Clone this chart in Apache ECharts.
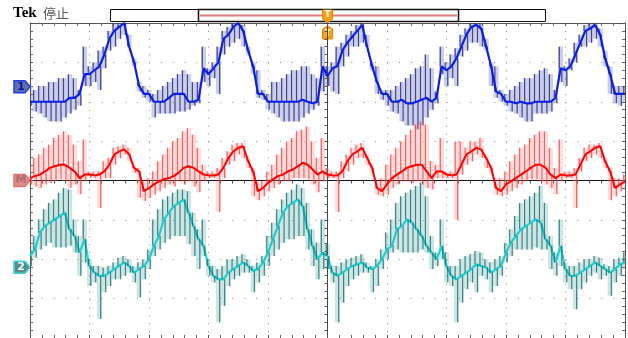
<!DOCTYPE html>
<html>
<head>
<meta charset="utf-8">
<script src="https://cdn.jsdelivr.net/npm/echarts@6/dist/echarts.min.js"></script>
<style>
  html, body { margin: 0; padding: 0; background: #fff; }
  #scope { width: 628px; height: 338px; }
</style>
</head>
<body>
<div id="scope"></div>
<script>
// 纵向单位：0.1 格（屏幕上下各 4 格 = ±40），横向 121 个采样点覆盖 10 格
// 通道 1（蓝）：主线 / 尖峰上沿 / 尖峰下沿
const blueCore = [
  20, 20, 20, 20, 20, 20, 20, 20, 21, 21,
  22, 27, 27, 28, 29, 32, 36, 38, 39, 40,
  34, 30, 24, 22, 22, 20, 20, 20, 21, 22,
  22, 22, 20, 20, 20.5, 28.5, 27, 28.5, 30, 36,
  37, 39, 40, 38, 33, 29, 22, 22, 20, 20,
  20, 20, 20, 20, 20, 20.5, 20, 19.6, 20, 29,
  26.5, 28.5, 29, 33, 35, 36.5, 38, 39.5, 34, 29,
  25, 22, 22, 20, 20, 20.5, 19.6, 19.6, 20, 20.5,
  21, 20, 21, 29, 28, 29, 31, 34, 37, 39,
  39.5, 38.6, 34, 29, 22.6, 22, 20, 20, 19.6, 20,
  19.6, 19.6, 20, 20, 20, 20, 21, 28.5, 28, 29,
  32, 35, 38, 38.6, 39.5, 37, 31, 27, 22, 22,
  22
];
const blueHi = [
  24, 23, 24, 24, 25, 25, 26, 26, 27, 26,
  23, 34, 29, 30, 33, 34, 38, 40, 40, 40,
  37, 31, 25, 24, 23, 22, 23, 24, 25, 26,
  27, 28, 27, 25, 25, 34, 28.5, 30, 34, 38,
  39, 40, 40, 39.5, 34, 30, 28, 23, 22, 25,
  25, 26, 27, 28, 28, 29, 29, 27, 26, 34,
  29, 30, 34, 35, 37, 38, 39.5, 40, 37, 30,
  29, 23, 23, 23, 24, 25, 26, 27, 28.5, 29,
  32, 28.5, 22.6, 34, 30, 32, 33.6, 37, 38.6, 40,
  40, 40, 36, 30, 29, 23, 22, 23, 24, 25,
  26, 26, 27, 28, 28.5, 27, 23, 34, 29, 31,
  35, 37, 39.5, 40, 40, 38.6, 33, 29, 24, 24,
  24
];
const blueLo = [
  19, 17.5, 17, 16, 15, 15, 15, 16, 17, 18,
  19, 24, 24, 25, 23, 28.5, 33, 34, 36, 37,
  34, 29, 22.6, 21, 20, 16, 17, 17, 17, 17,
  17.5, 17.5, 18, 19, 19.6, 25, 24, 26, 22, 32,
  34, 35, 36, 34, 32, 27, 21, 20.5, 18, 17,
  16, 15, 15, 15, 15, 16, 17, 18, 19, 22.6,
  24, 22.6, 22, 29, 31.5, 34, 34, 35, 34, 28,
  22, 20.5, 19, 17.5, 17, 15, 14, 14, 13, 14,
  16, 18, 19.6, 27, 24, 26, 24, 31.5, 33, 35,
  35, 34, 33, 24, 21, 20, 19, 17.5, 17, 16,
  15, 15, 17, 17, 17, 17.5, 19.6, 25, 24, 28,
  30, 34, 34, 35, 36, 34, 29, 22, 19.6, 19,
  20
];

// 数学通道 M（红）
const redCore = [
  0.6, 1.1, 1.5, 2.3, 3.2, 3.6, 4, 4, 3.2, 2.3,
  0.6, 1.5, 1.5, 1.3, 1.5, 2.3, 4, 6.6, 7.4, 7.9,
  6.6, 3.2, 2.3, -2.7, -1.9, -1, -0.2, 0.3, 0.6, 1.1,
  2, 3.2, 3.6, 3.2, 2.3, 1.5, 1.3, 1.3, 1.5, 3.2,
  5.7, 7.4, 8.3, 8.7, 4.9, 2.3, -2.7, -1.9, -0.6, 0.3,
  1.1, 1.5, 2.3, 2.8, 3.6, 4.5, 4, 2.8, 1.5, 2.3,
  1.5, 1.3, 1.3, 2.3, 4.9, 6.6, 7.4, 8.3, 5.7, 3.2,
  -1.9, -2.7, -1, 0.6, 1.5, 2.3, 3.2, 3.6, 4, 4,
  2.3, 0.6, 2.3, 2.3, 1.5, 1.3, 1.5, 4, 6.6, 7.4,
  8.3, 7.9, 5.7, 3.2, -1.9, -2.7, -1, -0.2, 0.6, 1.5,
  2.3, 3.2, 4, 4, 3.2, 1.5, 0.6, 1.5, 1.3, 1.3,
  1.5, 4, 6.6, 7.4, 8.3, 8.7, 4.9, 2.3, -1.9, -1,
  -0.2
];
const redHi = [
  4, 5.7, 6.6, 8.3, 9.1, 10.8, 11.6, 12.5, 11.6, 9.1,
  4.9, 10.4, 2.3, 2.3, 2.3, 4.9, 5.7, 8.3, 8.7, 9.1,
  8.3, 3.6, 3.2, -0.2, 0.6, 2.3, 4.9, 6.6, 8.3, 9.9,
  10.8, 12.5, 13.3, 11.6, 8.3, 4, 2.3, 2.3, 3.2, 5.7,
  7.4, 9.1, 9.5, 9.5, 5.7, 3.2, -0.2, -0.2, 2.3, 4,
  6.6, 8.3, 9.9, 10.8, 12.5, 12.9, 13.7, 9.9, 5.7, 10.8,
  3.2, 2.3, 2.3, 4.9, 6.6, 8.3, 9.1, 9.5, 6.6, 4,
  -0.2, 0.6, 4, 6.6, 8.3, 9.9, 11.6, 12.9, 14.2, 15,
  14.2, 4.9, 4, 10.8, 2.3, 2.3, 9.9, 9.9, 8.3, 9.9,
  9.9, 10.8, 6.6, 4, 0.6, 0.6, 2.3, 4.9, 6.6, 8.3,
  9.1, 10.8, 11.6, 12.5, 12.5, 8.3, 3.2, 10.4, 2.3, 2.3,
  3.2, 5.7, 8.3, 9.1, 9.1, 9.5, 5.7, 3.2, 0.6, 0.6,
  1.5
];
const redLo = [
  -1, -1.5, -1.9, -1, -0.6, -0.2, 0.3, -0.2, -1.9, -1,
  -3.5, -0.2, 0.6, 0.6, -7, 0.6, 0.6, 4, 5.7, 6.6,
  4.9, 1.9, -4.4, -5.2, -4.4, -3.6, -2.7, -1.9, -1, -1.5,
  -0.2, -1, -0.2, -1.5, -3, -0.2, 0.6, 0.6, -8, 0.6,
  4, 4.9, 6.6, 5.7, 3.2, -4, -5, -4, -2.7, -1.9,
  -1, -0.2, -0.2, 0.6, 0.6, 0.6, 0.3, -1, -3, -0.2,
  0.6, 0.6, -8, 0.6, 2.3, 4, 5.7, 5.7, 4, 1.5,
  -3.6, -4, -3.6, -1.9, -1, -0.2, -0.2, -0.6, -0.2, -1,
  -1.9, -2.3, 0.6, 0.6, 0.6, 0.6, -10, 1.5, 4, 4.9,
  6.6, 5.7, 3.2, 1.5, -3.6, -4, -3.6, -2.7, -1.9, -1,
  -0.2, 0.3, 0.3, -0.2, -1, -1.9, -3.5, -0.2, 0.6, 0.6,
  -7, 2.3, 4.9, 5.7, 6.6, 5.7, 3.2, -5, -4, -2.7,
  -1.9
];

// 通道 2（青）
const cyanCore = [
  -19.2, -17.5, -13.2, -11.6, -10.7, -9.9, -9, -8.2, -12.4, -14.1,
  -18.3, -14.9, -21.7, -23.4, -24.2, -24.2, -23.4, -22.5, -21.7, -20.8,
  -21.7, -23.4, -22.5, -21.7, -20, -16.6, -14.1, -9.9, -8.2, -6.5,
  -5.7, -4.8, -8.2, -11.6, -14.9, -16.6, -21.7, -24.2, -25.1, -25.1,
  -23.4, -22.5, -21.7, -20.8, -21.7, -22.9, -22.5, -20.8, -18.3, -14.9,
  -11.6, -8.2, -6.5, -5.7, -4.8, -6.5, -12.4, -16.6, -20, -18.3,
  -19.2, -23.4, -24.2, -23.4, -22.5, -21.7, -21.3, -20.8, -22.1, -22.5,
  -21.7, -20, -17.5, -16.6, -12.4, -11.6, -9.9, -10.7, -12.4, -14.1,
  -16.6, -18.3, -20, -16.6, -21.7, -24.2, -25.1, -24.2, -23.4, -22.5,
  -21.3, -21.7, -22.1, -23.4, -22.5, -21.7, -18.3, -15.8, -14.1, -12.4,
  -11.6, -10.7, -9.9, -10.7, -14.9, -16.6, -20.8, -16.6, -22.5, -24.2,
  -24.2, -23.4, -22.5, -21.7, -20.8, -21.7, -22.5, -23.4, -22.5, -21.3,
  -20.8
];
const cyanHi = [
  -16.6, -14.1, -9.9, -7.3, -5.7, -4.8, -3.1, -1.9, -2.3, -9.9,
  -14.1, -9.9, -20, -21.7, -21.7, -22.1, -21.7, -20.8, -19.6, -19.2,
  -20, -21.7, -20.8, -20, -17.5, -9.9, -7.3, -4.8, -4, -3.1,
  -2.3, -2.3, -2.7, -8.2, -12.4, -9.9, -20, -21.7, -22.5, -21.7,
  -20, -20, -19.2, -18.7, -20, -21.7, -20.8, -19.2, -14.1, -10.7,
  -7.3, -4.8, -3.1, -2.3, -1, -1.9, -5.7, -12.4, -15.8, -9.9,
  -16.2, -21.7, -21.7, -20.8, -20, -19.6, -19.2, -18.7, -20.8, -21.7,
  -20, -17.5, -13.2, -9.9, -5.7, -4, -3.1, -2.3, -1.4, -0.6,
  -4, -14.1, -18.3, -9.9, -18.3, -21.7, -21.7, -20, -19.2, -18.7,
  -17.9, -18.3, -20, -20.8, -20, -19.2, -15.8, -12.4, -9, -5.7,
  -4.8, -4, -3.1, -1.4, -5.7, -14.1, -18.3, -9.9, -20.8, -21.7,
  -21.7, -20.8, -20, -20, -19.2, -19.6, -21.3, -21.7, -20, -19.6,
  -18.3
];
const cyanLo = [
  -21.7, -19.6, -17.5, -16.6, -15.8, -17, -17, -17, -16.6, -18.3,
  -24.2, -20.8, -26.8, -25.9, -35.2, -28.4, -26.8, -25.1, -25.1, -24.2,
  -23.4, -25.9, -29.7, -25.1, -22.5, -19.2, -17.5, -15.8, -14.9, -14.1,
  -14.1, -14.1, -16.2, -19.2, -22.5, -19.2, -24.2, -25.9, -36, -31.8,
  -26.8, -25.1, -24.2, -23.4, -23.4, -28.4, -25.9, -24.2, -21.7, -19.2,
  -17.5, -15.8, -14.9, -14.9, -14.1, -14.1, -17.5, -21.7, -25.1, -22.5,
  -22.5, -25.9, -36, -31, -26.8, -25.1, -24.2, -23.4, -23.4, -28.4,
  -26.8, -22.5, -20, -18.3, -17.5, -18.3, -18.3, -18.3, -18.3, -17.5,
  -18.3, -22.5, -21.7, -20, -25.9, -26.8, -36, -31, -27.6, -25.9,
  -28.4, -24.2, -25.1, -28.4, -26.8, -24.2, -20.8, -19.2, -17.5, -17.5,
  -17.5, -17.5, -17, -17.5, -17.5, -22.5, -24.2, -21.7, -25.9, -27.6,
  -32.7, -27.6, -25.9, -24.2, -23.4, -25.1, -24.2, -29.3, -25.9, -24.2,
  -22.5
];

// 通道标记的参考电平（同样单位）
const channelLabels = ['1', 'M', '2'];
const channelOffsets = [23.8, 0, -22];

const chart = echarts.init(document.getElementById('scope'));

function toLine(core) {
  return core.map((v, i) => [i - 60, v]);
}
function toSpikes(lo, hi, core) {
  return lo.map((v, i) => [i - 60, v, hi[i], core[i]]);
}
// 每个采样点：一块淡色包络 + 一根向上尖峰 + 一根向下尖峰
function spikeRender(color, band) {
  return function (params, api) {
    const x = api.value(0);
    const core = api.value(3);
    const bl = api.coord([x - 0.5, api.value(2)]);
    const br = api.coord([x + 0.5, api.value(1)]);
    const up0 = api.coord([x - 0.25, core]);
    const up1 = api.coord([x - 0.25, api.value(2)]);
    const dn0 = api.coord([x + 0.25, core]);
    const dn1 = api.coord([x + 0.25, api.value(1)]);
    const style = {stroke: color, lineWidth: 1.2};
    return {
      type: 'group',
      children: [
        {type: 'rect', shape: {x: bl[0], y: bl[1], width: br[0] - bl[0], height: br[1] - bl[1]}, style: {fill: band}},
        {type: 'line', shape: {x1: up0[0], y1: up0[1], x2: up1[0], y2: up1[1]}, style: style},
        {type: 'line', shape: {x1: dn0[0], y1: dn0[1], x2: dn1[0], y2: dn1[1]}, style: style}
      ]
    };
  };
}

const dotX = {color: '#8c8c8c', width: 1, type: [1, 6.9]};
const dotY = {color: '#8c8c8c', width: 1, type: [1, 10.9]};
const border = {show: true, onZero: false, lineStyle: {color: '#555', width: 1}};
const edgeTick = {show: true, inside: true, length: 3, lineStyle: {color: '#555'}};
const edgeMinor = {show: true, splitNumber: 5, length: 3, lineStyle: {color: '#666'}};

chart.setOption({
  animation: false,
  backgroundColor: '#fff',
  grid: {left: 30, top: 23, width: 595, height: 316, show: false},
  xAxis: [
    {
      type: 'value', min: -60, max: 60, interval: 12,
      axisLine: {show: true, onZero: true, lineStyle: {color: '#111', width: 1}},
      axisTick: {show: true, length: 3, lineStyle: {color: '#444'}},
      minorTick: {show: true, splitNumber: 5, length: 3, lineStyle: {color: '#555'}},
      axisLabel: {show: false},
      splitLine: {show: true, lineStyle: dotX}
    },
    {
      type: 'value', min: -60, max: 60, interval: 12, position: 'top',
      axisLine: border, axisTick: edgeTick, minorTick: edgeMinor,
      axisLabel: {show: false}, splitLine: {show: false}
    },
    {
      type: 'value', min: -60, max: 60, interval: 12, position: 'bottom',
      axisLine: border, axisTick: edgeTick, minorTick: edgeMinor,
      axisLabel: {show: false}, splitLine: {show: false}
    }
  ],
  yAxis: [
    {
      type: 'value', min: -40, max: 40, interval: 10,
      axisLine: {show: true, onZero: true, lineStyle: {color: '#444', width: 1}},
      axisTick: {show: true, length: 3, lineStyle: {color: '#444'}},
      minorTick: {show: true, splitNumber: 5, length: 3, lineStyle: {color: '#555'}},
      axisLabel: {show: false},
      splitLine: {show: true, lineStyle: dotY}
    },
    {
      type: 'value', min: -40, max: 40, interval: 10, position: 'left',
      axisLine: border, axisTick: edgeTick, minorTick: edgeMinor,
      axisLabel: {show: false}, splitLine: {show: false}
    },
    {
      type: 'value', min: -40, max: 40, interval: 10, position: 'right',
      axisLine: border, axisTick: edgeTick, minorTick: edgeMinor,
      axisLabel: {show: false}, splitLine: {show: false}
    }
  ],
  series: [
    {
      type: 'custom', name: 'ch1-spikes', z: 2, clip: true,
      encode: {x: 0, y: [1, 2]},
      renderItem: spikeRender('rgba(22,22,120,0.75)', 'rgba(70,80,170,0.28)'),
      data: toSpikes(blueLo, blueHi, blueCore)
    },
    {
      type: 'line', name: 'ch1', z: 3, showSymbol: false, clip: true,
      lineStyle: {color: '#0a1ee6', width: 2.2},
      data: toLine(blueCore)
    },
    {
      type: 'custom', name: 'M-spikes', z: 2, clip: true,
      encode: {x: 0, y: [1, 2]},
      renderItem: spikeRender('rgba(255,40,40,0.7)', 'rgba(255,120,120,0.25)'),
      data: toSpikes(redLo, redHi, redCore)
    },
    {
      type: 'line', name: 'M', z: 3, showSymbol: false, clip: true,
      lineStyle: {color: '#ff0000', width: 2},
      data: toLine(redCore)
    },
    {
      type: 'custom', name: 'ch2-spikes', z: 4, clip: true,
      encode: {x: 0, y: [1, 2]},
      renderItem: spikeRender('rgba(15,105,105,0.78)', 'rgba(60,150,150,0.25)'),
      data: toSpikes(cyanLo, cyanHi, cyanCore)
    },
    {
      type: 'line', name: 'ch2', z: 3, showSymbol: false, clip: true,
      lineStyle: {color: '#12e2e2', width: 2.2},
      data: toLine(cyanCore)
    }
  ]
});

// 顶部状态栏、触发标记和通道标记
const trigX = chart.convertToPixel({gridIndex: 0}, [0, 0])[0];
const markerStyle = [
  {fill: '#5f6fae', stroke: '#1f3cf0', text: '#0c1a8c'},
  {fill: '#d88c8c', stroke: '#e47474', text: '#b56a6a'},
  {fill: '#5e8c8c', stroke: '#3fd6d6', text: '#e8ffff'}
];
const graphics = [
  {type: 'text', left: 13, top: 6, style: {text: 'Tek', font: 'bold 15px "Liberation Serif", "DejaVu Serif", serif', fill: '#000'}},
  {type: 'text', left: 43, top: 7, style: {text: '停止', font: '13px "Noto Sans CJK SC", sans-serif', fill: '#555'}},
  {type: 'rect', shape: {x: 110.5, y: 9.5, width: 435, height: 12}, style: {fill: '#fff', stroke: '#111', lineWidth: 1}},
  {type: 'rect', shape: {x: 198.5, y: 9.5, width: 260, height: 12}, style: {fill: 'none', stroke: '#111', lineWidth: 1.5}},
  {type: 'line', shape: {x1: 200, y1: 15.5, x2: 457, y2: 15.5}, style: {stroke: '#e07c7c', lineWidth: 2}},
  {
    type: 'polygon', shape: {points: [[trigX - 5, 10], [trigX + 5, 10], [trigX + 5, 19], [trigX, 23], [trigX - 5, 19]]},
    style: {fill: '#f5a012', stroke: '#e08a00'}
  },
  {type: 'text', x: trigX, y: 15, style: {text: 'T', font: 'bold 9px "DejaVu Sans", sans-serif', fill: '#fff', align: 'center', verticalAlign: 'middle'}},
  {
    type: 'polygon', shape: {points: [[trigX, 26], [trigX + 5, 29], [trigX + 5, 39], [trigX - 5, 39], [trigX - 5, 29]]},
    style: {fill: '#f5a012', stroke: '#e08a00'}
  },
  {type: 'text', x: trigX, y: 34, style: {text: 'T', font: 'bold 9px "DejaVu Sans", sans-serif', fill: '#fff', align: 'center', verticalAlign: 'middle'}}
];
channelOffsets.forEach((level, k) => {
  const p = chart.convertToPixel({gridIndex: 0}, [-60, level]);
  const tx = p[0], ty = p[1];
  const s = markerStyle[k];
  graphics.push({
    type: 'polygon',
    shape: {points: [[tx - 16, ty - 6], [tx - 5, ty - 6], [tx, ty], [tx - 5, ty + 6], [tx - 16, ty + 6]]},
    style: {fill: s.fill, stroke: s.stroke, lineWidth: 1.5}
  });
  graphics.push({
    type: 'text', x: tx - 9, y: ty,
    style: {text: channelLabels[k], font: 'bold 11px "DejaVu Sans", sans-serif', fill: s.text, align: 'center', verticalAlign: 'middle'}
  });
});
chart.setOption({graphic: graphics});
</script>
</body>
</html>
